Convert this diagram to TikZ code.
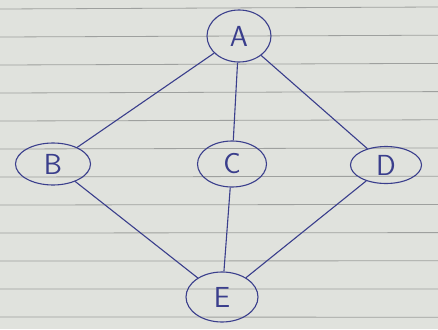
\documentclass[tikz,border=0pt]{standalone}
\usepackage{tikz}
\usetikzlibrary{positioning}
\usetikzlibrary{shapes.geometric}

\definecolor{ink}{RGB}{58,62,140}
\definecolor{paper}{RGB}{224,226,221}
\definecolor{rule}{RGB}{158,160,158}

\tikzset{
   vtx/.style={ellipse, draw=ink, line width=1.1pt, inner sep=0pt,
      text=ink, font=\sffamily\fontsize{29}{35}\selectfont},
   link/.style={draw=ink, line width=1.1pt},
   paperline/.style={draw=rule, line width=0.8pt}
}

\begin{document}
\begin{tikzpicture}[x=1pt,y=1pt]
      % sheet of ruled paper
      \fill[paper] (0,0) rectangle (438,-329);
      \useasboundingbox (0,0) rectangle (438,-329);
      \foreach \k in {0,...,11}
         \draw[paperline] (0,-9-28*\k) -- (438,-7-28.2*\k);

      % vertices
      \node[vtx, minimum width=64pt, minimum height=52pt] at (239,-36) (A) {A};
      \node[vtx, minimum width=75pt, minimum height=42pt, on grid,
            below left=128pt and 186pt of A]                        (B) {B};
      \node[vtx, minimum width=69pt, minimum height=46pt, on grid,
            below left=128pt and 7pt of A]                          (C) {C};
      \node[vtx, minimum width=71pt, minimum height=37pt, on grid,
            below right=129pt and 147pt of A]                       (D) {D};
      \node[vtx, minimum width=72pt, minimum height=50pt, on grid,
            below left=133pt and 10pt of C]                         (E) {E};

      % edges
      \draw[link] (A) -- (B);
      \draw[link] (A) -- (C);
      \draw[link] (A) -- (D);
      \draw[link] (B) -- (E);
      \draw[link] (C) -- (E);
      \draw[link] (D) -- (E);
\end{tikzpicture}
\end{document}
